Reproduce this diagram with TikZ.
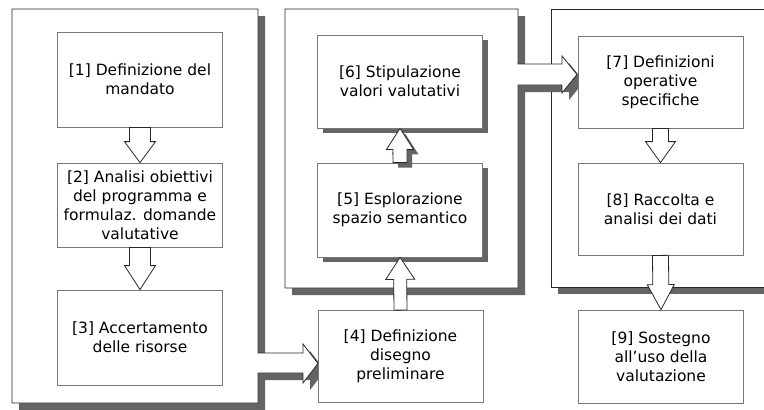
\documentclass[tikz,border=0pt]{standalone}
\usepackage{fontspec}
\setmainfont{DejaVu Sans}
\usetikzlibrary{calc,shadows}
\definecolor{boxline}{RGB}{120,120,120}
\definecolor{panelline}{RGB}{40,40,40}
\definecolor{shadowgray}{RGB}{100,100,100}
\newcommand{\blockarrow}[6][]{%
  \coordinate (hb) at ($(#3)!#6!(#2)$);
  \draw[blockarr,#1] ($(#2)!#4!90:(#3)$) -- ($(hb)!#4!-90:(#2)$) -- ($(hb)!#5!-90:(#2)$) -- (#3)
    -- ($(hb)!#5!90:(#2)$) -- ($(hb)!#4!90:(#2)$) -- ($(#2)!#4!-90:(#3)$) -- cycle;}
\newcommand{\leftpanel}{(12,9) -- (258,9) -- (258,353) -- (303,353) -- (303,344) -- (318,363.5)
  -- (303,383) -- (303,373) -- (258,373) -- (258,403) -- (12,403) -- cycle}
\newcommand{\midpanel}{(285,9) -- (518,9) -- (518,64) -- (562,64) -- (562,56) -- (577,74.5)
  -- (562,93) -- (562,85) -- (518,85) -- (518,288) -- (285,288) -- cycle}
\newcommand{\rightpanel}{(551,9) -- (800,9) -- (800,287) -- (551,287) -- cycle}
\begin{document}
\begin{tikzpicture}[x=1pt, y=-1pt,
  stepbox/.style={draw=boxline, fill=white, line width=0.8pt, minimum width=165pt, inner sep=0pt,
    align=center, font=\fontsize{15.5}{19}\selectfont},
  shadowed/.style={drop shadow={shadow xshift=5pt, shadow yshift=-5pt, fill=shadowgray, opacity=1}},
  panel/.style={draw=panelline, fill=white, line width=0.8pt, line join=miter},
  panelshadow/.style={fill=shadowgray, shift={(7,7)}},
  blockarr/.style={draw=panelline, fill=white, line width=0.8pt, line join=miter}]
  \useasboundingbox (0,0) rectangle (764,410);

  \fill[panelshadow] \rightpanel;
  \draw[panel] \rightpanel;
  \fill[panelshadow] \midpanel;
  \draw[panel] \midpanel;
  \fill[panelshadow] \leftpanel;
  \draw[panel] \leftpanel;

  \node[stepbox, minimum height=95pt] (b1) at (140,79.5) {[1] Definizione del\\mandato};
  \node[stepbox, minimum height=84pt] (b2) at (140,205) {[2] Analisi obiettivi\\del programma e\\formulaz. domande\\valutative};
  \node[stepbox, minimum height=95pt] (b3) at (140,337.5) {[3] Accertamento\\delle risorse};
  \node[stepbox, minimum height=92pt] (b4) at (400.5,356.5) {[4] Definizione\\disegno\\preliminare};
  \node[stepbox, shadowed, minimum height=94pt] (b5) at (400,210) {[5] Esplorazione\\spazio semantico};
  \node[stepbox, shadowed, minimum height=93pt] (b6) at (400,81.5) {[6] Stipulazione\\valori valutativi};
  \node[stepbox, minimum height=92pt] (b7) at (660.5,82) {[7] Definizioni\\operative\\specifiche};
  \node[stepbox, minimum height=92pt] (b8) at (660.5,209) {[8] Raccolta e\\analisi dei dati};
  \node[stepbox, minimum height=93pt] (b9) at (661,356.5) {[9] Sostegno\\all’uso della\\valutazione};

  \blockarrow{b1.south}{b2.north}{10.5pt}{15.5pt}{21pt}
  \blockarrow{b2.south}{b3.north}{10.5pt}{15.5pt}{24pt}
  \blockarrow{b4.north}{b5.south}{6.5pt}{14.5pt}{22pt}
  \blockarrow[shadowed]{b5.north}{b6.south}{7pt}{13.5pt}{21pt}
  \blockarrow{b7.south}{b8.north}{8pt}{15pt}{21pt}
  \blockarrow{b8.south}{b9.north}{8pt}{13.5pt}{25pt}
\end{tikzpicture}
\end{document}
